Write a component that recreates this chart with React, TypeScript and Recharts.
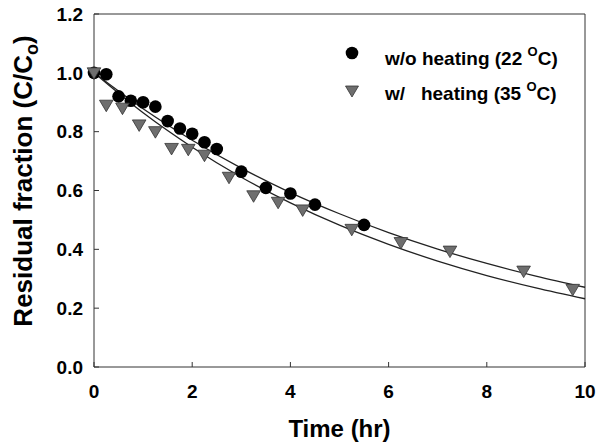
import { ComposedChart, Scatter, Line, XAxis, YAxis, ReferenceLine, Label } from "recharts";

const noHeatTime = [0, 0.25, 0.5, 0.75, 1, 1.25, 1.5, 1.75, 2, 2.25, 2.5, 3, 3.5, 4, 4.5, 5.5];
const noHeatFraction = [1.0, 0.995, 0.92, 0.905, 0.9, 0.885, 0.836, 0.811, 0.793, 0.764, 0.741, 0.664, 0.609, 0.59, 0.552, 0.483];

const heatTime = [0, 0.25, 0.58, 0.92, 1.25, 1.58, 1.92, 2.25, 2.75, 3.25, 3.75, 4.25, 5.25, 6.25, 7.25, 8.75, 9.75];
const heatFraction = [1.0, 0.89, 0.88, 0.823, 0.8, 0.743, 0.74, 0.72, 0.645, 0.582, 0.56, 0.534, 0.468, 0.423, 0.394, 0.326, 0.264];

// fitted curves, read at whole hours
const fitTime = [0, 1, 2, 3, 4, 5, 6, 7, 8, 9, 10];
const noHeatFit = [1.0, 0.878, 0.771, 0.676, 0.593, 0.521, 0.457, 0.401, 0.352, 0.309, 0.271];
const heatFit = [1.0, 0.864, 0.747, 0.645, 0.558, 0.482, 0.417, 0.36, 0.311, 0.269, 0.232];

const xTicks = [0, 2, 4, 6, 8, 10];
const yTicks = [0, 0.2, 0.4, 0.6, 0.8, 1.0, 1.2];

const noHeatPts = noHeatTime.map((x, i) => ({ x, y: noHeatFraction[i] }));
const heatPts = heatTime.map((x, i) => ({ x, y: heatFraction[i] }));
const noHeatLine = fitTime.map((x, i) => ({ x, y: noHeatFit[i] }));
const heatLine = fitTime.map((x, i) => ({ x, y: heatFit[i] }));

const FONT = "'Liberation Sans', Arial, sans-serif";
const AXIS = "#333";
const TRI_FILL = "#6e6e6e";

const tickStyle = { fill: "#000", fontSize: 19, fontWeight: "bold", fontFamily: FONT };

function Triangle(props: any) {
  const { cx, cy } = props;
  if (cx == null || cy == null) return null;
  return (
    <polygon
      points={`${cx - 6.8},${cy - 5} ${cx + 6.8},${cy - 5} ${cx},${cy + 6.5}`}
      fill={TRI_FILL}
      stroke="#333"
      strokeWidth={0.8}
    />
  );
}

function Dot(props: any) {
  const { cx, cy } = props;
  if (cx == null || cy == null) return null;
  return <circle cx={cx} cy={cy} r={6.3} fill="#000" />;
}

function LegendBox() {
  const txt = { fontFamily: FONT, fontSize: 19, fontWeight: "bold", fill: "#000", whiteSpace: "pre" as const };
  return (
    <svg width={260} height={80} style={{ position: "absolute", left: 330, top: 30 }}>
      <circle cx={22} cy={23} r={6.3} fill="#000" />
      <text x={55} y={35} style={txt}>
        {"w/o heating (22 "}
        <tspan dy={-9} fontSize={13}>O</tspan>
        <tspan dy={9}>C)</tspan>
      </text>
      <polygon points="15.5,56 28.5,56 22,67" fill={TRI_FILL} stroke="#333" strokeWidth={0.8} />
      <text x={55} y={70} style={txt}>
        {"w/   heating (35 "}
        <tspan dy={-9} fontSize={13}>O</tspan>
        <tspan dy={9}>C)</tspan>
      </text>
    </svg>
  );
}

export default function App() {
  return (
    <div style={{ position: "absolute", left: 0, top: 0, width: 597, height: 447, background: "#fff" }}>
      <ComposedChart width={597} height={447} margin={{ top: 14, right: 12, bottom: 0, left: 0 }}>
        <XAxis
          type="number"
          dataKey="x"
          domain={[0, 10]}
          ticks={xTicks}
          height={80}
          tickSize={-5}
          tickMargin={23}
          stroke={AXIS}
          tick={tickStyle}
        >
          <Label
            content={(p: any) => {
              const vb = p.viewBox;
              return (
                <text
                  x={vb.x + vb.width / 2}
                  y={vb.y + 70}
                  textAnchor="middle"
                  style={{ fontFamily: FONT, fontSize: 24, fontWeight: "bold", fill: "#000" }}
                >
                  Time (hr)
                </text>
              );
            }}
          />
        </XAxis>
        <YAxis
          type="number"
          domain={[0, 1.2]}
          ticks={yTicks}
          width={94}
          tickSize={-5}
          tickMargin={16}
          stroke={AXIS}
          tick={tickStyle}
          tickFormatter={(v: number) => v.toFixed(1)}
        >
          <Label
            content={() => (
              <text
                transform="translate(32,181) rotate(-90)"
                textAnchor="middle"
                style={{ fontFamily: FONT, fontSize: 26, fontWeight: "bold", fill: "#000" }}
              >
                Residual fraction (C/C<tspan dy={6} fontSize={18}>o</tspan>
                <tspan dy={-6}>)</tspan>
              </text>
            )}
          />
        </YAxis>
        <ReferenceLine y={1.2} stroke={AXIS} ifOverflow="visible" />
        <ReferenceLine x={10} stroke={AXIS} ifOverflow="visible" />
        <Line
          data={noHeatLine}
          dataKey="y"
          type="monotone"
          stroke="#222"
          strokeWidth={1.3}
          dot={false}
          activeDot={false}
          isAnimationActive={false}
        />
        <Line
          data={heatLine}
          dataKey="y"
          type="monotone"
          stroke="#222"
          strokeWidth={1.3}
          dot={false}
          activeDot={false}
          isAnimationActive={false}
        />
        <Scatter data={noHeatPts} dataKey="y" shape={<Dot />} isAnimationActive={false} />
        <Scatter data={heatPts} dataKey="y" shape={<Triangle />} isAnimationActive={false} />
      </ComposedChart>
      <LegendBox />
    </div>
  );
}
